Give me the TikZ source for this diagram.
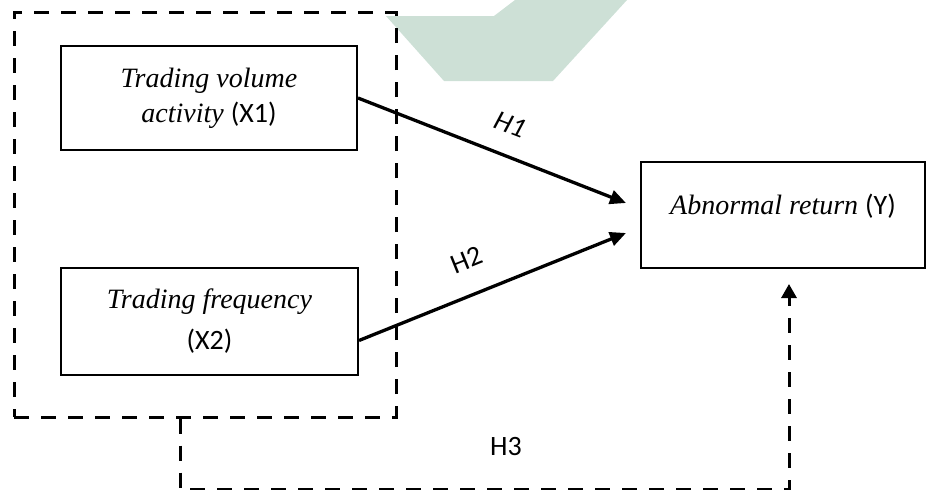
\documentclass[tikz,border=0pt]{standalone}
\usepackage{fontspec}
\setmainfont{Liberation Serif}
\newfontfamily\calibri{Carlito}
\usetikzlibrary{arrows.meta,calc}
\definecolor{wmark}{RGB}{205,224,214}

\begin{document}
\begin{tikzpicture}[x=1pt,y=-1pt,
  box/.style={draw,line width=2pt,align=center,inner sep=0pt,font=\fontsize{28}{35}\selectfont},
  grpbox/.style={draw,line width=3pt,dash pattern=on 15pt off 12pt},
  hyp/.style={line width=3.3pt,-{Triangle[length=16pt,width=14pt]}},
  lbl/.style={font=\calibri\fontsize{28}{34}\selectfont}]
\useasboundingbox (0,0) rectangle (927,490);

% watermark
\fill[wmark] (386,16) -- (494,16) -- (515,0) -- (627,0) -- (553,81) -- (444,81) -- cycle;

% variables
\node[grpbox,minimum width=382pt,minimum height=405pt] (grp) at (205,214.5) {};
\node[box,minimum width=296pt,minimum height=104pt] (x1) at (209,98)
{\textit{Trading volume}\\\textit{activity} {\calibri (X1)}};
\node[box,minimum width=297pt,minimum height=107pt] (x2) at (209.5,321.5)
{\textit{Trading frequency}\\[6pt]{\calibri (X2)}};
\node[box,minimum width=284pt,minimum height=106pt] (y) at (783,215) {};
\node[font=\fontsize{28}{35}\selectfont,yshift=9pt] (ytext) at (y.center)
{\textit{Abnormal return} {\calibri (Y)}};

% hypotheses
\draw[hyp] (x1.east) -- ($(y.west)+(-14,-12)$);
\draw[hyp] ([yshift=-19pt]x2.east) -- ($(y.west)+(-14,18)$);

\coordinate (h3s) at ($(grp.south)+(-25,0)$);
\coordinate (h3e) at ($(y.south)+(6,15)$);
\draw[line width=3pt,dash pattern=on 15pt off 12pt,-{Triangle[length=14pt,width=15pt]}]
(h3s) -- ++(0,71) -| (h3e);

% labels
\node[lbl,rotate=-21] (h1) at (510,125) {\itshape H1};
\node[lbl,rotate=22] (h2) at (467,260) {H2};
\node[lbl] (h3) at (506,447) {H3};
\end{tikzpicture}
\end{document}
